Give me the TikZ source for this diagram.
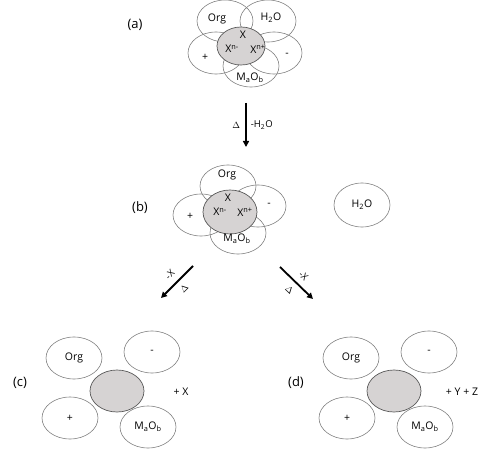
\documentclass[tikz,border=0pt]{standalone}
\usepackage{fontspec}
\setmainfont{Open Sans}
\usetikzlibrary{arrows.meta,shapes.geometric}
\definecolor{ringgray}{HTML}{808080}
\definecolor{coregray}{HTML}{D6D3D3}
\definecolor{coreline}{HTML}{595959}

\begin{document}
\begin{tikzpicture}[x=1pt,y=-1pt,
  shell/.style={ellipse,draw=ringgray,line width=0.6pt,minimum width=56pt,minimum height=42pt,inner sep=0pt,font=\fontsize{10.5}{12}\selectfont},
  core/.style={ellipse,draw=coreline,fill=coregray,line width=0.7pt,minimum width=54pt,minimum height=42pt,inner sep=0pt},
  txt/.style={inner sep=0pt,font=\fontsize{10.5}{12}\selectfont},
  small/.style={inner sep=0pt,font=\fontsize{9.5}{11}\selectfont},
  stage/.style={inner sep=0pt,font=\fontsize{13}{15}\selectfont},
  react/.style={-{Triangle[length=6pt,width=6pt]},line width=1.8pt}]

  \useasboundingbox (0,0) rectangle (500,449);

  % (a) hydrated complex
  \node[stage] (la) at (135,25) {(a)};
  \node[shell] (a-org) at (225,21) {};
  \node[shell] (a-h2o) at (268,21) {};
  \node[shell] (a-pos) at (216,53) {};
  \node[shell] (a-neg) at (274,53) {};
  \node[shell] (a-mo)  at (251,66) {};
  \node[core,minimum width=48pt,minimum height=38pt] (a-core) at (241,46) {};
  \node[txt] (a-torg) at (217,19) {Org};
  \node[txt] (a-th2o) at (271,18) {H\textsubscript{2}O};
  \node[txt] (a-tpos) at (205,57) {+};
  \node[txt] (a-tneg) at (287,55) {-};
  \node[txt] (a-tmo)  at (250,78) {M\textsubscript{a}O\textsubscript{b}};
  \node[txt] (a-tx)   at (243,35) {X};
  \node[txt] (a-txm)  at (232,49) {X\textsuperscript{n-}};
  \node[txt] (a-txp)  at (258,49) {X\textsuperscript{n+}};

  % dehydration step
  \coordinate (a-out) at (246,103);
  \coordinate (b-in)  at (246,147);
  \draw[react] (a-out) -- node[small,left=5pt]{$\Delta$} node[small,right=4pt]{-H\textsubscript{2}O} (b-in);

  % (b) dehydrated complex
  \node[stage] (lb) at (140,208) {(b)};
  \node[shell] (b-org) at (228,186) {};
  \node[shell] (b-pos) at (201,215) {};
  \node[shell] (b-neg) at (258,206) {};
  \node[shell] (b-mo)  at (238,233) {};
  \node[core,minimum height=44pt] (b-core) at (230,212) {};
  \node[txt] (b-torg) at (227,175) {Org};
  \node[txt] (b-tpos) at (190,216) {+};
  \node[txt] (b-tneg) at (269,205) {-};
  \node[txt] (b-tmo)  at (237,239) {M\textsubscript{a}O\textsubscript{b}};
  \node[txt] (b-tx)   at (228,198) {X};
  \node[txt] (b-txm)  at (220,212) {X\textsuperscript{n-}};
  \node[txt] (b-txp)  at (245,212) {X\textsuperscript{n+}};
  \node[shell,minimum height=44pt] (b-h2o) at (362,205) {H\textsubscript{2}O};

  % loss of X
  \coordinate (b-outl) at (193,266);
  \coordinate (c-in)   at (161,298);
  \coordinate (b-outr) at (280,267);
  \coordinate (d-in)   at (313,299);
  \draw[react] (b-outl) -- node[small,sloped,above=6pt]{-X} node[small,sloped,below=6pt]{$\Delta$} (c-in);
  \draw[react] (b-outr) -- node[small,sloped,above=6pt]{-X} node[small,sloped,below=6pt]{$\Delta$} (d-in);

  % (c)
  \node[stage] (lc) at (20,383) {(c)};
  \node[shell] (c-org) at (74,358) {Org};
  \node[shell] (c-neg) at (152,352) {-};
  \node[shell] (c-pos) at (70,418) {+};
  \node[shell] (c-mo)  at (148,427) {M\textsubscript{a}O\textsubscript{b}};
  \node[core] (c-core) at (117,391) {};
  \node[txt] (c-extra) at (181,392) {+ X};

  % (d)
  \node[stage] (ld) at (296,383) {(d)};
  \node[shell] (d-org) at (351,358) {Org};
  \node[shell] (d-neg) at (429,352) {-};
  \node[shell] (d-pos) at (347,418) {+};
  \node[shell] (d-mo)  at (425,427) {M\textsubscript{a}O\textsubscript{b}};
  \node[core] (d-core) at (394,391) {};
  \node[txt] (d-extra) at (462,392) {+ Y + Z};

\end{tikzpicture}
\end{document}
